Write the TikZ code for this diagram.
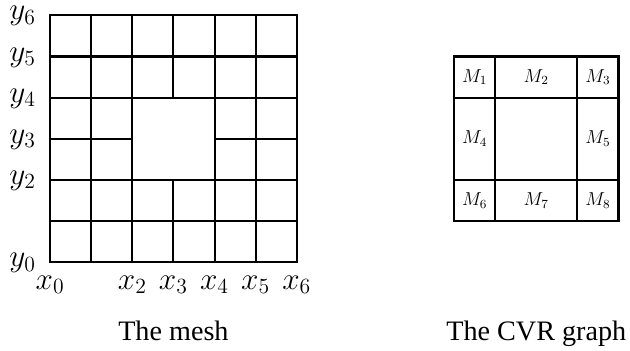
\documentclass[tikz,border=0pt]{standalone}
\usepackage{fontspec}
\setmainfont{Liberation Serif}
\usetikzlibrary{positioning}

\tikzset{
    meshline/.style={line width=1.4pt},
    coordlabel/.style={font=\fontsize{17.28}{20}\selectfont, scale=1.25, inner sep=0pt},
    cvrlabel/.style={font=\fontsize{12}{14}\selectfont, scale=1.08},
    caption/.style={font=\fontsize{19.5}{22}\selectfont, anchor=base},
}

\begin{document}
\begin{tikzpicture}
    \useasboundingbox (-1.22,-2.165) rectangle (14.11,6.375);
    % Mesh, with the hole in the middle
    \draw[meshline] (0,0) rectangle (6,6);
    \foreach \k in {1,2,4,5} {
        \draw[meshline] (\k,0) -- (\k,6);
        \draw[meshline] (0,\k) -- (6,\k);
    }
    \draw[meshline] (3,0) -- (3,2);
    \draw[meshline] (3,4) -- (3,6);
    \draw[meshline] (0,3) -- (2,3);
    \draw[meshline] (4,3) -- (6,3);
    % Coordinate labels
    \foreach \k in {0,2,3,4,5,6} {
        \node[coordlabel, anchor=base] (xlab\k) at (\k,-0.66) {$x_\k$};
        \node[coordlabel, anchor=base east] (ylab\k) at (-0.34,\k-0.11) {$y_\k$};
    }
    % CVR graph
    \begin{scope}[xshift=9.83cm]
        \draw[meshline] (0,1) rectangle (4,5);
        \draw[meshline] (1,1) -- (1,5);
        \draw[meshline] (3,1) -- (3,5);
        \draw[meshline] (0,2) -- (4,2);
        \draw[meshline] (0,4) -- (4,4);
        \node[cvrlabel] (m1) at (0.5,4.5) {$M_1$};
        \node[cvrlabel] (m2) at (2,4.5) {$M_2$};
        \node[cvrlabel] (m3) at (3.5,4.5) {$M_3$};
        \node[cvrlabel] (m4) at (0.5,3) {$M_4$};
        \node[cvrlabel] (m5) at (3.5,3) {$M_5$};
        \node[cvrlabel] (m6) at (0.5,1.5) {$M_6$};
        \node[cvrlabel] (m7) at (2,1.5) {$M_7$};
        \node[cvrlabel] (m8) at (3.5,1.5) {$M_8$};
    \end{scope}
    % Captions
    \node[caption] (meshcap) at (3,-1.9) {The mesh};
    \node[caption] (cvrcap) at (11.83,-1.9) {The CVR graph};
\end{tikzpicture}
\end{document}
